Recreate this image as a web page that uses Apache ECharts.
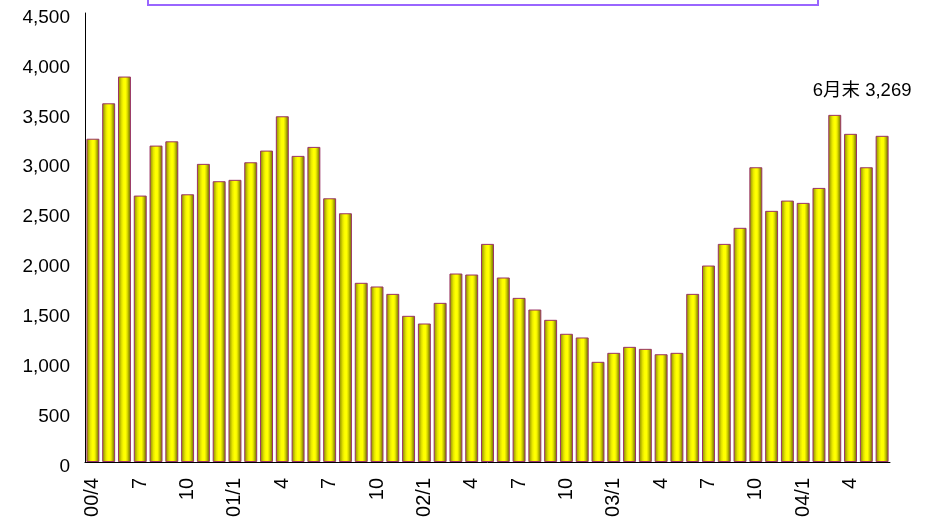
<!DOCTYPE html>
<html>
<head>
<meta charset="utf-8">
<script src="https://cdn.jsdelivr.net/npm/echarts@6/dist/echarts.min.js"></script>
<style>
  html, body { margin: 0; padding: 0; background: #fff; }
  #chart { width: 929px; height: 526px; }
</style>
</head>
<body>
<div id="chart"></div>
<script>
// Months from 00/4 to 04/6; year is marked at January and at the first month
const months = [
  '00/4', '5', '6', '7', '8', '9', '10', '11', '12',
  '01/1', '2', '3', '4', '5', '6', '7', '8', '9', '10', '11', '12',
  '02/1', '2', '3', '4', '5', '6', '7', '8', '9', '10', '11', '12',
  '03/1', '2', '3', '4', '5', '6', '7', '8', '9', '10', '11', '12',
  '04/1', '2', '3', '4', '5', '6'
];

// Month-end balances
const balances = [
  3240, 3595, 3863, 2670, 3171, 3214, 2683, 2988, 2814,
  2828, 3004, 3121, 3465, 3068, 3158, 2643, 2493, 1796, 1759, 1685, 1465,
  1388, 1595, 1889, 1879, 2186, 1849, 1645, 1528, 1425, 1285, 1248, 1004,
  1094, 1154, 1134, 1080, 1094, 1685, 1969, 2186, 2347, 2954, 2517, 2620,
  2597, 2747, 3479, 3289, 2954, 3269
];

const yTicks = { min: 0, max: 4500, step: 500 };
const latestLabel = '6月末';

const lastIndex = balances.length - 1;
const fmt = v => v.toLocaleString('en-US');

const barFill = new echarts.graphic.LinearGradient(0, 0, 1, 0, [
  { offset: 0, color: '#8a8a00' },
  { offset: 0.15, color: '#b3b300' },
  { offset: 0.3, color: '#e6e600' },
  { offset: 0.45, color: '#ffff00' },
  { offset: 0.6, color: '#ffff00' },
  { offset: 0.72, color: '#d9d900' },
  { offset: 0.86, color: '#999900' },
  { offset: 1, color: '#7a7a00' }
]);

const seriesData = balances.map((v, i) => {
  if (i !== lastIndex) return v;
  return {
    value: v,
    label: {
      show: true,
      position: 'top',
      offset: [-20, -31],
      formatter: p => latestLabel + ' ' + fmt(p.value),
      fontFamily: 'Liberation Sans, Arial, Noto Sans CJK JP, sans-serif',
      fontSize: 18.5,
      color: '#000'
    }
  };
});

const chart = echarts.init(document.getElementById('chart'), null, { renderer: 'canvas' });
chart.setOption({
  animation: false,
  backgroundColor: '#fff',
  grid: { left: 85, right: 39, top: 13, bottom: 64, containLabel: false },
  graphic: [{
    type: 'rect',
    left: 147,
    top: -20,
    shape: { width: 670, height: 24 },
    style: { fill: '#fff', stroke: '#9966ff', lineWidth: 2 }
  }],
  xAxis: {
    type: 'category',
    data: months,
    axisLine: { lineStyle: { color: '#000', width: 1 } },
    axisTick: { show: false },
    axisLabel: {
      interval: 2,
      rotate: 90,
      margin: 16,
      color: '#000',
      fontFamily: 'Liberation Sans, Arial, sans-serif',
      fontSize: 20
    }
  },
  yAxis: {
    type: 'value',
    min: yTicks.min,
    max: yTicks.max,
    interval: yTicks.step,
    axisLine: { show: true, lineStyle: { color: '#000', width: 1 } },
    axisTick: { show: false },
    splitLine: { show: false },
    axisLabel: {
      margin: 15,
      color: '#000',
      fontFamily: 'Liberation Sans, Arial, sans-serif',
      fontSize: 19,
      formatter: v => '{t|' + fmt(v) + '}',
      rich: {
        t: {
          fontFamily: 'Liberation Sans, Arial, sans-serif',
          fontSize: 19,
          color: '#000',
          padding: [9, 0, 0, 0]
        }
      }
    }
  },
  series: [{
    type: 'bar',
    data: seriesData,
    barWidth: '82%',
    itemStyle: {
      color: barFill,
      borderColor: '#993366',
      borderWidth: 1
    }
  }]
});
</script>
</body>
</html>
